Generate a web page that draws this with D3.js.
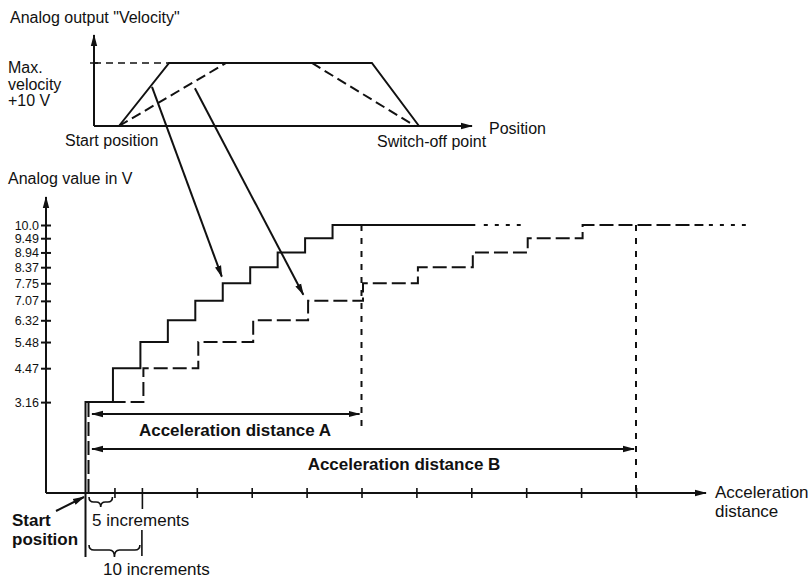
<!DOCTYPE html>
<html>
<head>
<meta charset="utf-8">
<script src="https://cdn.jsdelivr.net/npm/d3@7"></script>
<style>
  body { margin: 0; background: #fff; }
  text { font-family: "Liberation Sans", Arial, sans-serif; fill: #111; }
</style>
</head>
<body>
<div id="chart"></div>
<script>
// analog output levels (V) reached at each step, and their tick labels
var levels = [3.16, 4.47, 5.48, 6.32, 7.07, 7.75, 8.37, 8.94, 9.49, 10.0];
var levelLabels = ["3.16", "4.47", "5.48", "6.32", "7.07", "7.75", "8.37", "8.94", "9.49", "10.0"];

// increment at which each level starts
var stepsA = [0, 5, 10, 15, 20, 25, 30, 35, 40, 45];   // 5 increments per step
var stepsB = [0, 10, 20, 30, 40, 50, 60, 70, 80, 90];  // 10 increments per step
var distA = 50, distB = 100;
var tailA = [71, 79];     // end of solid line, end of dotted continuation
var tailB = [112, 120];

var xTicks = [10, 20, 30, 40, 50, 60, 70, 80, 90, 100];
var halfTick = 5;

// inset: position 0 = start position, 100 = switch-off point; velocity in V
var profileFast = [[0, 0], [16.7, 10], [84.3, 10], [100, 0]];
var profileSlow = [[0, 0], [35.7, 10], [64.3, 10], [98.7, 0]];
var maxVelocity = 10;

// arrows from the inset ramps [position, V] to the steps [increment, V]
var pointers = [
  { from: [11, 6.2], to: [25, 7.75] },
  { from: [25.3, 6.0], to: [40, 7.07] }
];

var W = 811, H = 579;
var ink = "#111";

var svg = d3.select("#chart").append("svg")
  .attr("width", W)
  .attr("height", H);

var defs = svg.append("defs");
defs.append("marker")
  .attr("id", "head")
  .attr("viewBox", "0 -5 12 10")
  .attr("refX", 11).attr("refY", 0)
  .attr("markerWidth", 12).attr("markerHeight", 10)
  .attr("markerUnits", "userSpaceOnUse")
  .attr("orient", "auto-start-reverse")
  .append("path")
    .attr("d", "M0,-3.2L12,0L0,3.2Z")
    .attr("fill", ink);

// ---------- inset: analog output "Velocity" ----------
var inX = d3.scaleLinear().domain([0, 100]).range([119, 419]);
var inY = d3.scaleLinear().domain([0, 10]).range([126, 63]);

var inset = svg.append("g");

inset.append("line")
  .attr("x1", 94).attr("y1", inY(0)).attr("x2", 94).attr("y2", 35)
  .attr("stroke", ink).attr("stroke-width", 2).attr("marker-end", "url(#head)");
inset.append("line")
  .attr("x1", 94).attr("y1", inY(0)).attr("x2", 472).attr("y2", inY(0))
  .attr("stroke", ink).attr("stroke-width", 2).attr("marker-end", "url(#head)");
inset.append("line")
  .attr("x1", 90).attr("x2", 98).attr("y1", inY(maxVelocity)).attr("y2", inY(maxVelocity))
  .attr("stroke", ink).attr("stroke-width", 1.5);
inset.append("line")
  .attr("x1", 94).attr("x2", inX(profileFast[1][0])).attr("y1", inY(maxVelocity)).attr("y2", inY(maxVelocity))
  .attr("stroke", ink).attr("stroke-width", 1.6).attr("stroke-dasharray", "7,5");

var inLine = d3.line().x(function (d) { return inX(d[0]); }).y(function (d) { return inY(d[1]); });

inset.append("path")
  .attr("d", inLine(profileFast))
  .attr("fill", "none").attr("stroke", ink).attr("stroke-width", 2);
inset.append("path")
  .attr("d", inLine(profileSlow))
  .attr("fill", "none").attr("stroke", ink).attr("stroke-width", 2)
  .attr("stroke-dasharray", "10,5");

inset.append("text").attr("x", 10).attr("y", 23).style("font-size", "16px")
  .text("Analog output \"Velocity\"");
inset.append("text").attr("x", 8).attr("y", 73).style("font-size", "16px").text("Max.");
inset.append("text").attr("x", 8).attr("y", 90).style("font-size", "16px").text("velocity");
inset.append("text").attr("x", 8).attr("y", 106).style("font-size", "16px").text("+10 V");
inset.append("text").attr("x", 65).attr("y", 146).style("font-size", "16px").text("Start position");
inset.append("text").attr("x", 377).attr("y", 147).style("font-size", "16px").text("Switch-off point");
inset.append("text").attr("x", 489).attr("y", 134).style("font-size", "16px").text("Position");

// ---------- main chart ----------
var x = d3.scaleLinear().domain([0, 100]).range([87, 636]);
var y = d3.scaleLinear().domain([-0.35, 10]).range([493, 225]);
var x0 = 46, base = y.range()[0];

// axes
svg.append("line")
  .attr("x1", x0).attr("y1", base).attr("x2", x0).attr("y2", 197)
  .attr("stroke", ink).attr("stroke-width", 2).attr("marker-end", "url(#head)");
svg.append("line")
  .attr("x1", x0).attr("y1", base).attr("x2", 706).attr("y2", base)
  .attr("stroke", ink).attr("stroke-width", 2).attr("marker-end", "url(#head)");

var yAxis = svg.append("g")
  .attr("transform", "translate(" + x0 + ",0)")
  .call(d3.axisLeft(y).tickValues(levels)
    .tickFormat(function (d, i) { return levelLabels[i]; })
    .tickSize(5).tickPadding(2));
yAxis.select(".domain").remove();
yAxis.attr("font-family", "\"Liberation Sans\", Arial, sans-serif").attr("font-size", 12.5);
yAxis.selectAll(".tick line").attr("x1", 5).attr("stroke", ink).attr("stroke-width", 2);
yAxis.selectAll(".tick text").attr("fill", "#222");

var xAxis = svg.append("g")
  .attr("transform", "translate(0," + base + ")")
  .call(d3.axisBottom(x).tickValues([halfTick].concat(xTicks)).tickFormat("").tickSize(5));
xAxis.select(".domain").remove();
xAxis.selectAll(".tick line")
  .attr("y1", -5)
  .attr("y2", function (d) { return d === 10 ? 16 : 5; })
  .attr("stroke", ink).attr("stroke-width", 1.6);

// step curves
var stepLine = d3.line()
  .x(function (d) { return x(d[0]); })
  .y(function (d) { return y(d[1]); })
  .curve(d3.curveStepAfter);

function stepData(steps, tailEnd) {
  var pts = [[steps[0], y.domain()[0]]];
  steps.forEach(function (s, i) { pts.push([s, levels[i]]); });
  pts.push([tailEnd, levels[levels.length - 1]]);
  return pts;
}

svg.append("path")
  .attr("d", stepLine(stepData(stepsA, tailA[0])))
  .attr("transform", "translate(-1.5,0)")
  .attr("fill", "none").attr("stroke", ink).attr("stroke-width", 2);
svg.append("line")
  .attr("x1", x(tailA[0])).attr("x2", x(tailA[1]))
  .attr("y1", y(10)).attr("y2", y(10))
  .attr("stroke", ink).attr("stroke-width", 2)
  .attr("stroke-dasharray", "4,7").attr("stroke-dashoffset", 4);

svg.append("path")
  .attr("d", stepLine(stepData(stepsB, tailB[0])))
  .attr("transform", "translate(1.5,0)")
  .attr("fill", "none").attr("stroke", ink).attr("stroke-width", 2)
  .attr("stroke-dasharray", "14,5");
svg.append("line")
  .attr("x1", x(tailB[0])).attr("x2", x(tailB[1]))
  .attr("y1", y(10)).attr("y2", y(10))
  .attr("stroke", ink).attr("stroke-width", 2)
  .attr("stroke-dasharray", "4,7").attr("stroke-dashoffset", 4);

// start line continues under the axis to the 10-increment brace
svg.append("line")
  .attr("x1", x(0) - 1.5).attr("x2", x(0) - 1.5).attr("y1", base).attr("y2", 557)
  .attr("stroke", ink).attr("stroke-width", 2);
svg.append("line")
  .attr("x1", x(10)).attr("x2", x(10)).attr("y1", 530).attr("y2", 556)
  .attr("stroke", ink).attr("stroke-width", 1.6);

// dotted end-of-acceleration lines
svg.append("line")
  .attr("x1", x(distA)).attr("x2", x(distA)).attr("y1", y(10)).attr("y2", 432)
  .attr("stroke", ink).attr("stroke-width", 2).attr("stroke-dasharray", "6,7");
svg.append("line")
  .attr("x1", x(distB)).attr("x2", x(distB)).attr("y1", y(10)).attr("y2", base)
  .attr("stroke", ink).attr("stroke-width", 2).attr("stroke-dasharray", "6,7");

// acceleration distance arrows
[[distA, 414], [distB, 449]].forEach(function (a) {
  svg.append("line")
    .attr("x1", x(0) + 5).attr("x2", x(a[0]) - 2)
    .attr("y1", a[1]).attr("y2", a[1])
    .attr("stroke", ink).attr("stroke-width", 2)
    .attr("marker-start", "url(#head)").attr("marker-end", "url(#head)");
});

svg.append("text").attr("x", 235).attr("y", 436)
  .attr("text-anchor", "middle")
  .style("font-size", "17px").style("font-weight", "bold")
  .text("Acceleration distance A");
svg.append("text").attr("x", 404).attr("y", 470)
  .attr("text-anchor", "middle")
  .style("font-size", "17px").style("font-weight", "bold")
  .text("Acceleration distance B");

// pointer arrows from the inset to the steps
pointers.forEach(function (p) {
  var sx = inX(p.from[0]), sy = inY(p.from[1]);
  var ex = x(p.to[0]), ey = y(p.to[1]);
  var len = Math.hypot(ex - sx, ey - sy);
  var k = (len - 7) / len;
  svg.append("line")
    .attr("x1", sx).attr("y1", sy)
    .attr("x2", sx + (ex - sx) * k).attr("y2", sy + (ey - sy) * k)
    .attr("stroke", ink).attr("stroke-width", 2)
    .attr("marker-end", "url(#head)");
});

// braces
function brace(x1, x2, yTop, yMid, yTip) {
  var xm = (x1 + x2) / 2, r = Math.min(5, (x2 - x1) / 5);
  return "M" + x1 + "," + yTop +
    "Q" + x1 + "," + yMid + " " + (x1 + r) + "," + yMid +
    "L" + (xm - r) + "," + yMid +
    "Q" + xm + "," + yMid + " " + xm + "," + yTip +
    "Q" + xm + "," + yMid + " " + (xm + r) + "," + yMid +
    "L" + (x2 - r) + "," + yMid +
    "Q" + x2 + "," + yMid + " " + x2 + "," + yTop;
}
svg.append("path")
  .attr("d", brace(x(0) + 2, x(halfTick) - 2, 497, 502, 507))
  .attr("fill", "none").attr("stroke", ink).attr("stroke-width", 1.6);
svg.append("path")
  .attr("d", brace(x(0) + 2, x(10) - 2, 545, 550, 557))
  .attr("fill", "none").attr("stroke", ink).attr("stroke-width", 1.6);

svg.append("text").attr("x", 92).attr("y", 526).style("font-size", "17px").attr("fill", "#222")
  .text("5 increments");
svg.append("text").attr("x", 103).attr("y", 575).style("font-size", "17px").attr("fill", "#222")
  .text("10 increments");

// start position label with arrow
svg.append("line")
  .attr("x1", 56).attr("y1", 511).attr("x2", 84).attr("y2", 497)
  .attr("stroke", ink).attr("stroke-width", 2).attr("marker-end", "url(#head)");
svg.append("text").attr("x", 12).attr("y", 526)
  .style("font-size", "17px").style("font-weight", "bold").text("Start");
svg.append("text").attr("x", 12).attr("y", 545)
  .style("font-size", "17px").style("font-weight", "bold").text("position");

// axis titles
svg.append("text").attr("x", 8).attr("y", 184).style("font-size", "16px")
  .text("Analog value in V");
svg.append("text").attr("x", 715).attr("y", 498).style("font-size", "17px").attr("fill", "#222")
  .text("Acceleration");
svg.append("text").attr("x", 715).attr("y", 517).style("font-size", "17px").attr("fill", "#222")
  .text("distance");
</script>
</body>
</html>
